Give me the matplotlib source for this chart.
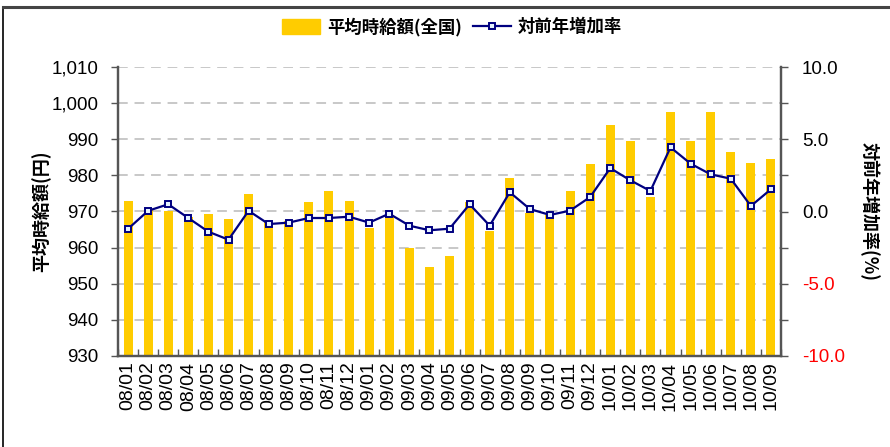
import matplotlib
matplotlib.use('Agg')
import matplotlib.pyplot as plt
import numpy as np
from matplotlib.patches import Rectangle
from matplotlib.lines import Line2D
from matplotlib.ticker import FixedLocator

plt.rcParams['font.family'] = ['Liberation Sans', 'Noto Sans CJK JP', 'DejaVu Sans']

# データ
months = ['08/01', '08/02', '08/03', '08/04', '08/05', '08/06', '08/07', '08/08', '08/09', '08/10', '08/11', '08/12',
          '09/01', '09/02', '09/03', '09/04', '09/05', '09/06', '09/07', '09/08', '09/09', '09/10', '09/11', '09/12',
          '10/01', '10/02', '10/03', '10/04', '10/05', '10/06', '10/07', '10/08', '10/09']
wage = [973, 970.5, 970, 968.6, 969.4, 967.8, 974.8, 967, 967.4, 972.5, 975.8, 973,
        965.5, 968.8, 960, 954.6, 957.8, 972.6, 964.6, 979.4, 969.6, 969, 975.8, 983.2,
        994, 989.4, 973.9, 997.5, 989.4, 997.5, 986.6, 983.4, 984.4]
growth = [-1.2, 0.05, 0.5, -0.45, -1.4, -1.95, 0.05, -0.87, -0.77, -0.45, -0.45, -0.36,
          -0.77, -0.15, -0.98, -1.3, -1.19, 0.5, -0.98, 1.33, 0.17, -0.24, 0.06, 1.0,
          3.0, 2.16, 1.42, 4.44, 3.31, 2.57, 2.27, 0.38, 1.54]

bar_label = '平均時給額(全国)'
line_label = '対前年増加率'
y_label = '平均時給額(円)'
y2_label = '対前年増加率(%)'

cjk = ['Noto Sans CJK JP', 'DejaVu Sans']
bar_color = '#FFCC00'
line_color = '#000080'

fig = plt.figure(figsize=(8.9, 4.47), dpi=100)
ax = fig.add_axes([118 / 890, 1 - 356 / 447, (781 - 118) / 890, (356 - 67) / 447])
ax2 = ax.twinx()

# 外枠
fig.add_artist(Rectangle((2.5 / 890, -0.05), 1.0, 1.05 - 6.5 / 447, transform=fig.transFigure,
                         fill=False, edgecolor='black', linewidth=1.2))
fig.add_artist(Line2D([2.5 / 890, 1], [1 - 6.5 / 447] * 2, transform=fig.transFigure,
                      color='#444444', linewidth=2.2))

x = np.arange(len(months))
ax.bar(x, wage, width=0.45, color=bar_color, zorder=2)
ax.set_ylim(930, 1010)
ax.set_xlim(-0.5, len(months) - 0.5)
ax.set_yticks(np.arange(930, 1011, 10))
ax.set_yticklabels(['{:,}'.format(v) for v in range(930, 1011, 10)])
ax.yaxis.grid(True, linestyle=(0, (5, 3.5)), color='#c8c8c8', linewidth=1.4, zorder=0)
ax.set_axisbelow(True)

ax2.plot(x, growth, color=line_color, linewidth=1.6, marker='s', markersize=5,
         markerfacecolor='#e6f4ff', markeredgecolor=line_color, markeredgewidth=1.4, zorder=3)
ax2.set_ylim(-10, 10)
ax2.yaxis.set_major_locator(FixedLocator([-10, -5, 0, 5, 10]))
ax2.yaxis.set_minor_locator(FixedLocator([-7.5, -2.5, 2.5, 7.5]))
ax2.set_yticklabels(['-10.0', '-5.0', '0.0', '5.0', '10.0'])

# 軸の設定
for a in (ax, ax2):
    a.spines['top'].set_visible(False)
    for s in ('left', 'right', 'bottom'):
        a.spines[s].set_color('#555555')
        a.spines[s].set_linewidth(1.6)

ax.tick_params(axis='y', direction='out', length=5, width=1, pad=9, labelsize=13.5, colors='#555555',
               labelcolor='black')
ax2.tick_params(axis='y', which='both', direction='out', length=5, width=1, pad=10, labelsize=13.5,
                colors='#555555')
for t, v in zip(ax2.get_yticklabels(), [-10, -5, 0, 5, 10]):
    t.set_color('red' if v < 0 else 'black')

# x軸ラベル
ax.set_xticks(x)
ax.set_xticklabels(months, rotation=90, fontsize=14)
ax.tick_params(axis='x', which='major', length=0, pad=4)
ax.xaxis.set_minor_locator(FixedLocator(np.arange(-0.5, len(months), 1.0)))
ax.tick_params(axis='x', which='minor', direction='in', length=5, width=1, colors='#555555')

ax.set_ylabel(y_label, family=cjk, fontsize=13, fontweight='bold')
ax2.set_ylabel(y2_label, family=cjk, fontsize=13, fontweight='bold', rotation=270)
ax.yaxis.set_label_coords(-0.115, 0.5)
ax2.yaxis.set_label_coords(1.134, 0.5)
ax2.yaxis.label.set_va('center')
ax.yaxis.label.set_va('center')

# 凡例
handles = [Rectangle((0, 0), 1, 1, color=bar_color),
           Line2D([], [], color=line_color, linewidth=1.6, marker='s', markersize=5,
                  markerfacecolor='#e6f4ff', markeredgecolor=line_color, markeredgewidth=1.4)]
leg = fig.legend(handles=handles, labels=[bar_label, line_label], loc='center',
                 bbox_to_anchor=(452 / 890, 1 - 27 / 447), ncol=2, frameon=False,
                 prop={'family': cjk, 'size': 12.5, 'weight': 'bold'},
                 handlelength=2.2, handleheight=0.9, handletextpad=0.4, columnspacing=0.6)

fig.savefig('out.png', dpi=100)
